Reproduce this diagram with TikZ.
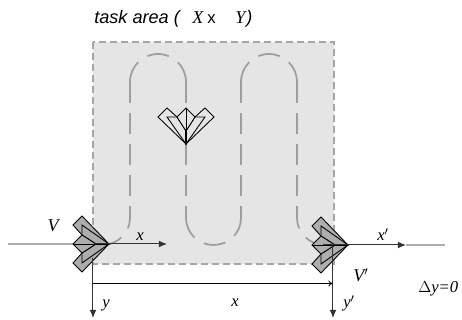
\documentclass[tikz,border=0pt]{standalone}
\usepackage{fontspec}
\setmainfont{Liberation Serif}
\setsansfont{Liberation Sans}
\usetikzlibrary{arrows.meta}
\tikzset{
  area/.style={fill=black!10,draw=black!35,line width=0.9pt,dash pattern=on 5.5pt off 2.75pt},
  route/.style={draw=black!38,line width=1.3pt,dash pattern=on 15.7pt off 7.5pt},
  routearc/.style={draw=black!38,line width=1.3pt,dash pattern=on 16.5pt off 8.25pt},
  routeend/.style={draw=black!38,line width=1.3pt,dash pattern=on 8pt off 8.5pt on 30pt off 1pt},
  axis/.style={draw=black!80,line width=0.75pt,-{Latex[length=6pt,width=5pt]}},
  track/.style={draw=black!32,line width=1.3pt},
  dim/.style={draw=black,line width=0.55pt,-{To[length=3.5pt,width=4.5pt]}},
  lab/.style={inner sep=0pt,font=\fontsize{12.5}{13}\selectfont\itshape},
  biglab/.style={inner sep=0pt,font=\fontsize{13.5}{14}\selectfont\itshape},
  title/.style={inner sep=0pt,font=\fontsize{13.6}{14}\sffamily\itshape},
  pl/.style={draw=black,line width=0.65pt,line join=miter,fill=#1},
  pics/craft/.style={code={
    \foreach \s in {1,-1}{
      \path[pl=#1] (0,0) -- (\s*28,-27) -- (\s*19,-36) -- (\s*9,-27) -- (0,-13) -- cycle;
      \path[pl=#1] (0,0) -- (\s*19,-27) -- (\s*9,-27) -- (0,-13) -- cycle;
    }
    \path[pl=#1] (0,-13) -- (9,-27) -- (0,-36) -- (-9,-27) -- cycle;
    \draw[black,line width=0.65pt] (0,-13) -- (0,-36);
    \draw[black,line width=1.4pt] (0,0) -- (0,-15);
  }}
}
\begin{document}
\begin{tikzpicture}[x=0.75pt,y=-0.75pt]
\useasboundingbox (0,0) rectangle (462,320);
\draw[area] (93,42) rectangle (334,264);
% route, piece by piece
\foreach \vx in {130,186,241,297}{
  \draw[route] (\vx,82) -- (\vx,218);
}
\draw[routearc] (130,82) arc[start angle=180,end angle=360,x radius=28,y radius=28];
\draw[routearc] (241,82) arc[start angle=180,end angle=360,x radius=28,y radius=28];
\draw[routearc] (186,218) arc[start angle=180,end angle=0,x radius=27.5,y radius=27];
\draw[routeend] (130,218) arc[start angle=0,end angle=90,x radius=28,y radius=27];
\draw[routeend] (297,218) arc[start angle=180,end angle=90,x radius=28,y radius=27];
\coordinate (ts) at (8,244);
\coordinate (n1) at (109,244);
\coordinate (n1b) at (95,244);
\coordinate (xa) at (167,244);
\coordinate (n2) at (348,245);
\coordinate (n2b) at (323,245);
\coordinate (xb) at (406,245);
\coordinate (te) at (445,245);
\coordinate (y1s) at (93,258);
\coordinate (y1e) at (93,318);
\coordinate (y2s) at (333,245);
\coordinate (y2e) at (333,318);
\coordinate (d1) at (93,283.5);
\coordinate (d2) at (333,283.5);
\draw[track] (ts) -- (n1);
\draw[track] (xb) -- (te);
\pic[rotate=90] at (n1) {craft={black!32}};
\pic[rotate=90] at (n2) {craft={black!32}};
\pic at (186,144) {craft={black!10}};
\draw[axis] (n1b) -- (xa);
\draw[axis] (n2b) -- (xb);
\draw[axis] (y1s) -- (y1e);
\draw[axis] (y2s) -- (y2e);
\draw[dim] (d1) -- (d2);
\node[title,anchor=base west] (t1) at (94,24) {task area (};
\node[biglab,anchor=base west] (t2) at (192,24) {X};
\node[anchor=base west,inner sep=0pt,font=\fontsize{12.5}{13}\sffamily] (t3) at (207,24) {x};
\node[biglab,anchor=base west] (t4) at (235,24) {Y};
\node[title,anchor=base west] (t5) at (246,24) {)};
\node[biglab,anchor=base] (v1) at (53,232) {V};
\node[lab,anchor=base] (x1) at (140,241) {x};
\node[lab,anchor=base] (y1) at (106,308) {y};
\node[lab,anchor=base] (x2) at (383,241) {x$'$};
\node[biglab,anchor=base] (v2) at (361,282) {V$'$};
\node[lab,anchor=base] (y2) at (349,308) {y$'$};
\node[lab,anchor=base] (x3) at (235,307) {x};
\node[lab,anchor=base west] (dy) at (418,293) {\upshape$\Delta$\itshape y=0};
\end{tikzpicture}
\end{document}
